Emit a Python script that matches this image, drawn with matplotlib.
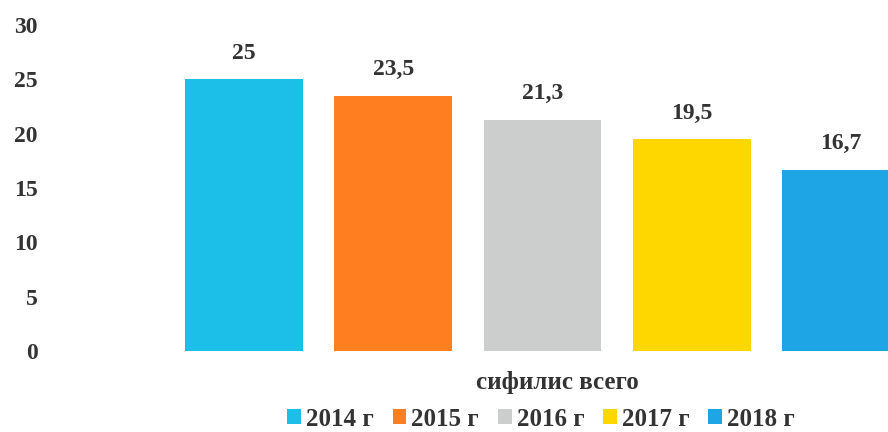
import matplotlib.pyplot as plt
import matplotlib.transforms as mtransforms

# chart data
years = ['2014 г', '2015 г', '2016 г', '2017 г', '2018 г']
values = [25, 23.5, 21.3, 19.5, 16.7]
value_labels = ['25', '23,5', '21,3', '19,5', '16,7']
colors = ['#1CBFE8', '#FF7E1F', '#CBCECC', '#FFD700', '#1EA5E6']
category = 'сифилис всего'
yticks = [0, 5, 10, 15, 20, 25, 30]

plt.rcParams['font.family'] = ['Liberation Serif', 'DejaVu Serif']
plt.rcParams['font.weight'] = 'bold'
txtcol = '#333333'

FIG = plt.figure(figsize=(8.88, 4.32), dpi=100)
AX1 = FIG.add_axes([60/888, 81/432, 828/888, 326/432])

xs = list(range(len(values)))
bars = AX1.bar(xs, values, width=0.79, color=colors, label=years)

for x, v, lbl in zip(xs, values, value_labels):
    AX1.annotate(lbl, (x, v), xytext=(0, 11), textcoords='offset points',
                 ha='center', va='bottom', fontsize=17, fontweight='bold',
                 color=txtcol)

AX1.set_xlim(-1.233, 4.315)
AX1.set_ylim(0, 30)
AX1.set_yticks(yticks)
AX1.set_yticklabels([str(t) for t in yticks])
AX1.tick_params(axis='y', length=0, pad=16, labelsize=17, labelcolor=txtcol)
AX1.set_xticks([])
for s in AX1.spines.values():
    s.set_visible(False)

# category label under the bars
trans = mtransforms.blended_transform_factory(FIG.transFigure, FIG.transFigure)
AX1.text(557/888, 50/432, category, transform=trans, ha='center', va='center',
         fontsize=18, fontweight='bold', color=txtcol)

leg = FIG.legend(handles=bars, labels=years, loc='center', ncol=5,
                 bbox_to_anchor=(541/888, 13/432), frameon=False,
                 fontsize=18, handlelength=0.55, handleheight=0.55,
                 handletextpad=0.2, columnspacing=0.75)
for t in leg.get_texts():
    t.set_color(txtcol)
    t.set_fontweight('bold')

plt.savefig('out.png', dpi=100)
